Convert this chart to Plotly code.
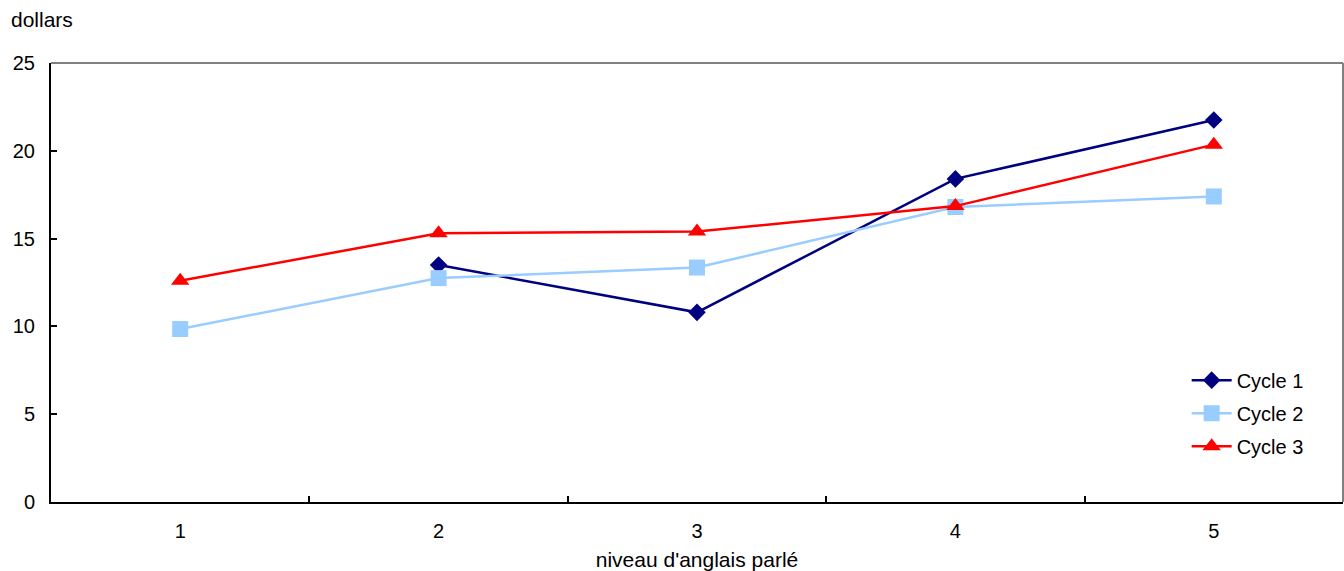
import plotly.graph_objects as go

# Speaking level categories (x) and hourly amounts by cycle
niveaux = [1, 2, 3, 4, 5]
cycle_1 = [None, 13.5, 10.8, 18.4, 21.75]
cycle_2 = [9.85, 12.75, 13.35, 16.8, 17.4]
cycle_3 = [12.6, 15.3, 15.4, 16.85, 20.35]

y_ticks = [0, 5, 10, 15, 20, 25]
x_bounds = [1.5, 2.5, 3.5, 4.5]

FONT = "Liberation Sans, Arial, sans-serif"

fig = go.Figure()

series = [
    ("Cycle 1", cycle_1, "#000080", "diamond", 13.5),
    ("Cycle 2", cycle_2, "#99CCFF", "square", 16),
    ("Cycle 3", cycle_3, "#FF0000", "triangle-up", 16),
]
for name, vals, color, sym, size in series:
    fig.add_trace(go.Scatter(
        x=niveaux, y=vals, name=name, mode="lines+markers",
        legendgroup=name,
        line=dict(color=color, width=2.5),
        marker=dict(symbol=sym, size=size, color=color),
        connectgaps=False,
    ))

fig.update_layout(
    width=1344, height=571,
    margin=dict(l=51, r=1, t=63, b=69),
    paper_bgcolor="white", plot_bgcolor="white",
    font=dict(family=FONT, size=20, color="black"),
    showlegend=True,
    legend=dict(
        x=0.879, y=0.322, xanchor="left", yanchor="top",
        bgcolor="rgba(0,0,0,0)", font=dict(size=20, family=FONT),
        itemwidth=40, tracegroupgap=4,
    ),
    xaxis=dict(
        range=[0.5, 5.5], tickvals=niveaux, ticktext=[str(v) for v in niveaux],
        showgrid=False, zeroline=False, ticks="",
        showline=True, linecolor="black", linewidth=2,
        minor=dict(tickvals=x_bounds, ticks="inside", ticklen=6,
                   tickcolor="black", tickwidth=2, showgrid=False),
        title=dict(text="niveau d'anglais parlé", standoff=12,
                   font=dict(size=21)),
        tickfont=dict(size=20), ticklabelstandoff=10,
    ),
    yaxis=dict(
        range=[0, 25], tickvals=y_ticks,
        showgrid=False, zeroline=False,
        ticks="inside", ticklen=6, tickcolor="black", tickwidth=2,
        showline=True, linecolor="black", linewidth=2,
        tickfont=dict(size=20), ticklabelstandoff=10,
    ),
    annotations=[dict(
        text="dollars", xref="paper", yref="paper", x=-0.0325, y=1.1,
        xanchor="left", yanchor="middle", showarrow=False,
        font=dict(size=21, family=FONT),
    )],
    shapes=[
        dict(type="line", xref="paper", yref="paper", x0=0, x1=1, y0=1, y1=1,
             line=dict(color="#808080", width=2)),
        dict(type="line", xref="paper", yref="paper", x0=1, x1=1, y0=0, y1=1,
             line=dict(color="#808080", width=2)),
    ],
)

fig.write_html("out.html")
